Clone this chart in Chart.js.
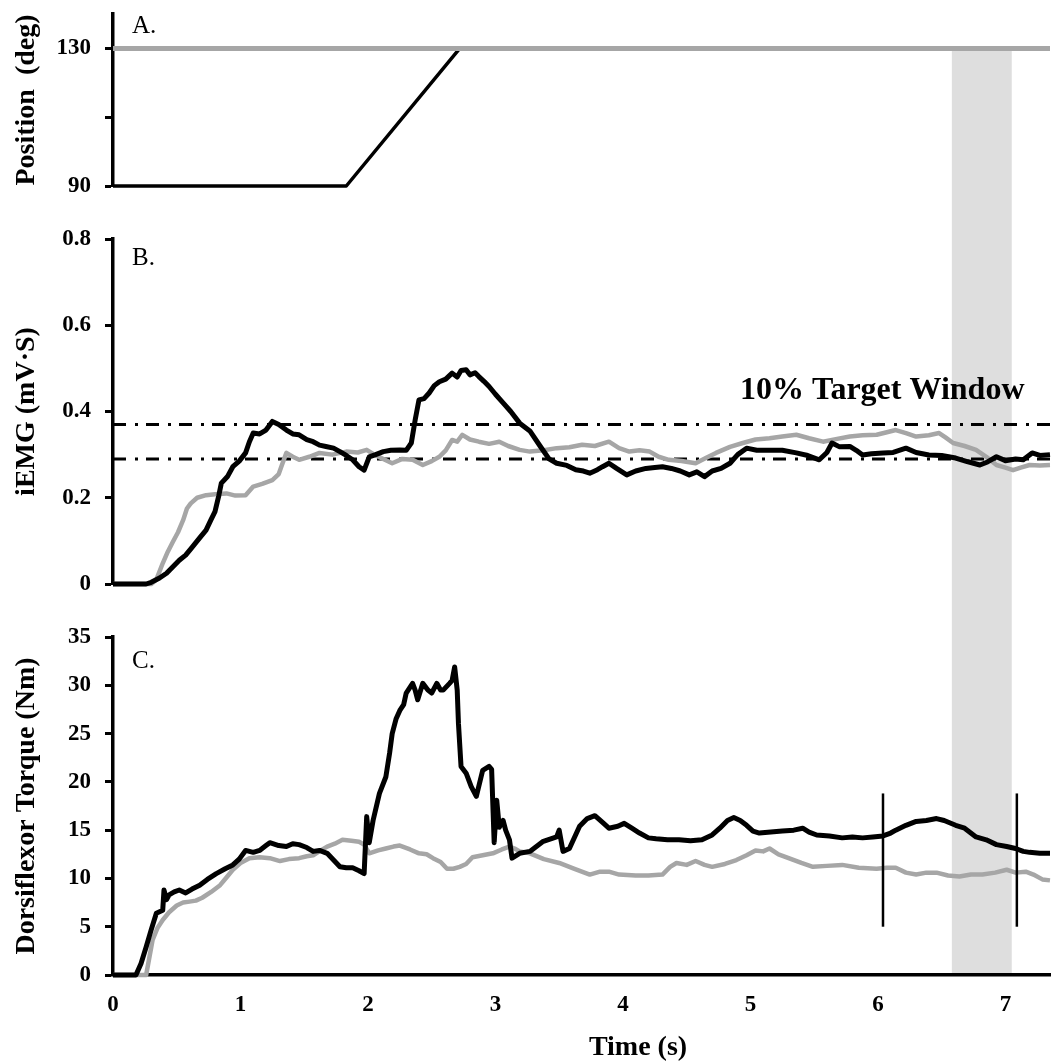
<!DOCTYPE html>
<html>
<head>
<meta charset="utf-8">
<script src="https://cdn.jsdelivr.net/npm/chart.js@4.4.1/dist/chart.umd.min.js"></script>
<style>
  html, body { margin: 0; padding: 0; background: #fff; }
  #wrap { position: relative; width: 1057px; height: 1061px; }
  .panel { position: absolute; left: 0; width: 1057px; }
</style>
</head>
<body>
<div id="wrap">
  <div class="panel" style="top:0;height:200px"><canvas id="posChart" width="1057" height="200"></canvas></div>
  <div class="panel" style="top:200px;height:400px"><canvas id="emgChart" width="1057" height="400"></canvas></div>
  <div class="panel" style="top:600px;height:461px"><canvas id="torqueChart" width="1057" height="461"></canvas></div>
</div>
<script>
// time axis (s)
const timeTicks = [0, 1, 2, 3, 4, 5, 6, 7];
const timeMax = 7.35;
const bandStart = 6.58, bandEnd = 7.05;

// A. position (deg)
const posTicks = [90, 110, 130];
const posLabels = ['90', '', '130'];
const posTarget = [[0, 130], [7.35, 130]];
const posActual = [[0, 90], [1.83, 90], [2.72, 130]];

// B. iEMG (mV·s)
const emgTicks = [0, 0.2, 0.4, 0.6, 0.8];
const emgLabels = ['0', '0.2', '0.4', '0.6', '0.8'];
const windowUpper = 0.37, windowLower = 0.29;
const emgBlack = [[0,0],[0.26,0],[0.30,0.004],[0.365,0.014],[0.42,0.025],[0.47,0.04],[0.52,0.055],[0.57,0.067],[0.62,0.085],[0.68,0.107],[0.73,0.125],[0.77,0.15],[0.80,0.168],[0.83,0.205],[0.85,0.234],[0.90,0.25],[0.94,0.272],[0.99,0.285],[1.04,0.304],[1.07,0.33],[1.10,0.35],[1.15,0.348],[1.20,0.357],[1.25,0.377],[1.30,0.37],[1.36,0.357],[1.41,0.348],[1.46,0.346],[1.52,0.335],[1.57,0.33],[1.62,0.322],[1.67,0.319],[1.73,0.315],[1.78,0.307],[1.83,0.298],[1.88,0.288],[1.93,0.272],[1.97,0.264],[2.01,0.295],[2.06,0.3],[2.12,0.307],[2.18,0.31],[2.25,0.311],[2.30,0.31],[2.34,0.327],[2.37,0.38],[2.40,0.427],[2.44,0.43],[2.48,0.443],[2.52,0.46],[2.56,0.469],[2.61,0.475],[2.66,0.489],[2.70,0.48],[2.73,0.495],[2.77,0.497],[2.80,0.485],[2.84,0.49],[2.87,0.481],[2.91,0.47],[2.95,0.458],[3.00,0.44],[3.06,0.42],[3.12,0.4],[3.19,0.373],[3.27,0.355],[3.35,0.32],[3.42,0.29],[3.48,0.28],[3.56,0.275],[3.63,0.265],[3.69,0.262],[3.74,0.257],[3.80,0.265],[3.84,0.272],[3.89,0.28],[3.95,0.268],[4.03,0.253],[4.10,0.262],[4.18,0.268],[4.25,0.27],[4.31,0.272],[4.38,0.268],[4.45,0.262],[4.52,0.253],[4.58,0.26],[4.64,0.249],[4.70,0.262],[4.77,0.268],[4.84,0.28],[4.90,0.3],[4.97,0.315],[5.05,0.31],[5.15,0.31],[5.25,0.31],[5.36,0.304],[5.45,0.298],[5.54,0.288],[5.60,0.305],[5.64,0.327],[5.70,0.318],[5.78,0.319],[5.83,0.31],[5.88,0.299],[5.95,0.302],[6.04,0.304],[6.12,0.305],[6.22,0.315],[6.30,0.305],[6.40,0.299],[6.50,0.298],[6.61,0.292],[6.70,0.284],[6.80,0.276],[6.86,0.283],[6.93,0.295],[7.00,0.286],[7.08,0.29],[7.14,0.288],[7.21,0.304],[7.27,0.298],[7.35,0.30]];
const emgGray = [[0,0],[0.30,0],[0.34,0.01],[0.39,0.048],[0.43,0.075],[0.47,0.098],[0.51,0.12],[0.55,0.148],[0.58,0.175],[0.61,0.187],[0.66,0.2],[0.73,0.206],[0.80,0.208],[0.89,0.21],[0.96,0.205],[1.04,0.206],[1.10,0.226],[1.17,0.232],[1.25,0.241],[1.30,0.255],[1.33,0.28],[1.36,0.304],[1.41,0.295],[1.46,0.288],[1.54,0.295],[1.62,0.304],[1.72,0.3],[1.83,0.307],[1.92,0.305],[1.99,0.311],[2.05,0.3],[2.12,0.29],[2.19,0.28],[2.27,0.29],[2.35,0.288],[2.43,0.276],[2.50,0.285],[2.56,0.295],[2.61,0.31],[2.66,0.334],[2.70,0.33],[2.74,0.346],[2.80,0.335],[2.87,0.33],[2.95,0.325],[3.03,0.33],[3.10,0.32],[3.19,0.311],[3.27,0.307],[3.38,0.31],[3.48,0.315],[3.58,0.317],[3.68,0.323],[3.78,0.32],[3.89,0.33],[3.97,0.315],[4.05,0.307],[4.13,0.31],[4.21,0.307],[4.28,0.295],[4.36,0.288],[4.46,0.285],[4.57,0.28],[4.65,0.292],[4.73,0.304],[4.84,0.318],[4.94,0.327],[5.04,0.335],[5.15,0.338],[5.25,0.342],[5.36,0.346],[5.46,0.338],[5.57,0.33],[5.67,0.336],[5.78,0.342],[5.88,0.345],[5.99,0.346],[6.07,0.352],[6.14,0.357],[6.22,0.35],[6.30,0.342],[6.40,0.345],[6.48,0.35],[6.53,0.34],[6.59,0.327],[6.68,0.32],[6.77,0.311],[6.85,0.295],[6.93,0.276],[7.00,0.27],[7.06,0.264],[7.12,0.27],[7.19,0.276],[7.27,0.275],[7.35,0.276]];

// C. dorsiflexor torque (Nm)
const torqueTicks = [0, 5, 10, 15, 20, 25, 30, 35];
const torqueLabels = ['0', '5', '10', '15', '20', '25', '30', '35'];
const torqueBlack = [[0,0],[0.18,0],[0.22,1.2],[0.26,2.9],[0.30,4.7],[0.34,6.4],[0.39,6.7],[0.40,8.8],[0.42,7.8],[0.44,8.3],[0.48,8.6],[0.52,8.8],[0.57,8.5],[0.62,8.9],[0.68,9.3],[0.74,9.9],[0.81,10.5],[0.88,11.0],[0.94,11.4],[0.99,12.0],[1.04,12.9],[1.10,12.7],[1.15,12.9],[1.20,13.4],[1.23,13.7],[1.30,13.4],[1.36,13.3],[1.41,13.6],[1.46,13.5],[1.52,13.2],[1.57,12.8],[1.62,12.9],[1.68,12.6],[1.73,11.9],[1.78,11.2],[1.83,11.1],[1.88,11.1],[1.93,10.8],[1.97,10.5],[1.99,16.4],[2.01,13.7],[2.04,16.0],[2.09,18.8],[2.14,20.5],[2.17,23],[2.19,25],[2.22,26.5],[2.25,27.4],[2.28,28],[2.30,29.2],[2.35,30.2],[2.37,29.5],[2.39,28.5],[2.43,30.2],[2.47,29.5],[2.50,29.2],[2.54,30.2],[2.57,29.5],[2.59,29.5],[2.64,30.2],[2.66,30.5],[2.68,31.9],[2.70,29.5],[2.71,26],[2.73,21.6],[2.77,20.9],[2.81,19.5],[2.85,18.5],[2.90,21.2],[2.95,21.6],[2.97,21.3],[2.99,13.7],[3.01,18.1],[3.03,15.3],[3.06,16],[3.08,15],[3.11,14],[3.13,12.1],[3.19,12.6],[3.27,12.8],[3.37,13.8],[3.48,14.3],[3.50,15.0],[3.53,12.8],[3.58,13.1],[3.66,15.4],[3.72,16.2],[3.78,16.5],[3.84,15.8],[3.89,15.2],[3.96,15.4],[4.01,15.7],[4.07,15.2],[4.13,14.7],[4.20,14.2],[4.26,14.1],[4.35,14.0],[4.44,14.0],[4.53,13.9],[4.62,14.0],[4.70,14.5],[4.76,15.2],[4.82,16.0],[4.87,16.3],[4.92,16.0],[4.97,15.5],[5.02,14.9],[5.07,14.7],[5.16,14.8],[5.25,14.9],[5.34,15.0],[5.41,15.2],[5.46,14.8],[5.52,14.5],[5.62,14.4],[5.72,14.2],[5.80,14.3],[5.88,14.2],[5.96,14.3],[6.04,14.4],[6.10,14.7],[6.14,15.0],[6.22,15.5],[6.30,15.9],[6.38,16.0],[6.46,16.2],[6.52,16.0],[6.61,15.5],[6.68,15.2],[6.77,14.3],[6.85,14.0],[6.93,13.5],[7.01,13.3],[7.08,13.1],[7.14,12.8],[7.19,12.7],[7.27,12.6],[7.35,12.6]];
const torqueGray = [[0,0],[0.26,0],[0.31,3.6],[0.35,4.9],[0.39,5.7],[0.44,6.5],[0.50,7.2],[0.55,7.5],[0.60,7.6],[0.65,7.7],[0.70,8.0],[0.77,8.6],[0.84,9.3],[0.89,10.1],[0.94,10.9],[1.00,11.6],[1.07,12.1],[1.15,12.2],[1.23,12.1],[1.31,11.8],[1.38,12.0],[1.46,12.1],[1.52,12.3],[1.57,12.4],[1.63,12.9],[1.68,13.3],[1.74,13.6],[1.80,14.0],[1.87,13.9],[1.93,13.8],[1.97,13.5],[2.01,12.6],[2.08,12.9],[2.14,13.1],[2.20,13.3],[2.25,13.4],[2.33,13.0],[2.40,12.6],[2.46,12.5],[2.51,12.1],[2.57,11.7],[2.62,11.0],[2.67,11.0],[2.72,11.2],[2.77,11.5],[2.82,12.2],[2.90,12.4],[2.98,12.6],[3.05,13.0],[3.11,13.3],[3.15,13.1],[3.19,12.8],[3.27,12.6],[3.38,12.0],[3.50,11.6],[3.62,11.0],[3.74,10.4],[3.82,10.7],[3.89,10.7],[3.97,10.4],[4.10,10.3],[4.20,10.3],[4.31,10.4],[4.37,11.2],[4.42,11.6],[4.50,11.4],[4.57,11.8],[4.64,11.4],[4.70,11.2],[4.80,11.5],[4.89,11.9],[4.97,12.4],[5.04,12.9],[5.10,12.8],[5.15,13.1],[5.22,12.5],[5.30,12.1],[5.40,11.6],[5.49,11.2],[5.60,11.3],[5.72,11.4],[5.85,11.1],[5.99,11.0],[6.07,11.1],[6.14,11.1],[6.22,10.6],[6.30,10.4],[6.38,10.6],[6.46,10.6],[6.55,10.3],[6.64,10.2],[6.73,10.4],[6.82,10.4],[6.92,10.6],[7.01,10.9],[7.08,10.6],[7.16,10.7],[7.22,10.4],[7.29,9.9],[7.35,9.8]];
const markerTimes = [6.04, 7.09];
const markerRange = [5, 18.8];

Chart.defaults.font.family = "'Liberation Serif', 'Times New Roman', serif";
Chart.defaults.color = '#000';

function line(points, color, width, extra) {
  return Object.assign({
    data: points.map(p => ({ x: p[0], y: p[1] })),
    borderColor: color, borderWidth: width, pointRadius: 0, tension: 0,
    fill: false, clip: false, borderJoinStyle: 'round'
  }, extra || {});
}

function yAxis(min, max, ticks, labels, title) {
  return {
    type: 'linear', min: min, max: max,
    afterBuildTicks: s => { s.ticks = ticks.map(v => ({ value: v })); },
    // fixed width so the three panels line up; layout padding decides top/bottom
    afterFit: s => { s.width = 113; s.paddingTop = 0; s.paddingBottom = 0; },
    ticks: { color: '#000', padding: 14, font: { size: 23, weight: 'bold' }, callback: (v, i) => labels[i] },
    grid: { drawOnChartArea: false, tickLength: 8, tickWidth: 3, tickColor: '#000' },
    border: { color: '#000', width: 3.5 },
    title: { display: true, text: title, color: '#000', font: { size: 28, weight: 'bold' }, padding: { top: 10, bottom: 0 } }
  };
}

const hiddenX = { type: 'linear', min: 0, max: timeMax, display: false };

// grey shaded window, drawn the full height of each panel so it joins up
function band(fromValue, toAxis) {
  return {
    id: 'band',
    beforeDatasetsDraw(chart) {
      const { ctx, scales } = chart;
      const x1 = scales.x.getPixelForValue(bandStart), x2 = scales.x.getPixelForValue(bandEnd);
      const top = fromValue == null ? 0 : scales.y.getPixelForValue(fromValue);
      const bottom = toAxis ? chart.chartArea.bottom - 2 : chart.height;
      ctx.save();
      ctx.fillStyle = '#dedede';
      ctx.fillRect(x1, top, x2 - x1, bottom - top);
      ctx.restore();
    }
  };
}

function labels(items) {
  return {
    id: 'labels',
    afterDraw(chart) {
      const ctx = chart.ctx;
      ctx.save();
      ctx.fillStyle = '#000';
      items.forEach(it => {
        ctx.font = it.font;
        ctx.textAlign = it.align || 'left';
        ctx.textBaseline = 'alphabetic';
        ctx.fillText(it.text, it.x, it.y);
      });
      ctx.restore();
    }
  };
}

const serif = "'Liberation Serif', serif";
const baseOpts = { responsive: false, animation: false, events: [] };

new Chart(document.getElementById('posChart'), {
  type: 'line',
  data: { datasets: [
    line(posTarget, '#a6a6a6', 5),
    line(posActual, '#000', 3.5)
  ] },
  options: Object.assign({}, baseOpts, {
    layout: { padding: { top: 14, bottom: 14, left: 0, right: 7 } },
    plugins: { legend: { display: false }, tooltip: { enabled: false } },
    scales: { x: hiddenX, y: yAxis(90, 140, posTicks, posLabels, 'Position  (deg)') }
  }),
  plugins: [band(130, false), labels([{ text: 'A.', x: 132, y: 33, font: '25px ' + serif }])]
});

new Chart(document.getElementById('emgChart'), {
  type: 'line',
  data: { datasets: [
    line(emgBlack, '#000', 5),
    line(emgGray, '#a6a6a6', 4.5),
    line([[0, windowUpper], [timeMax, windowUpper]], '#000', 3, { borderDash: [13, 9, 3, 8] }),
    line([[0, windowLower], [timeMax, windowLower]], '#000', 3, { borderDash: [13, 9, 3, 8] })
  ] },
  options: Object.assign({}, baseOpts, {
    layout: { padding: { top: 39, bottom: 16, left: 0, right: 7 } },
    plugins: { legend: { display: false }, tooltip: { enabled: false } },
    scales: { x: hiddenX, y: yAxis(0, 0.8, emgTicks, emgLabels, 'iEMG (mV·S)') }
  }),
  plugins: [band(null, false), labels([
    { text: 'B.', x: 132, y: 65, font: '25px ' + serif },
    { text: '10% Target Window', x: 740, y: 199, font: 'bold 32px ' + serif }
  ])]
});

new Chart(document.getElementById('torqueChart'), {
  type: 'line',
  data: { datasets: [
    line([[markerTimes[0], markerRange[0]], [markerTimes[0], markerRange[1]]], '#000', 2.5),
    line([[markerTimes[1], markerRange[0]], [markerTimes[1], markerRange[1]]], '#000', 2.5),
    line(torqueBlack, '#000', 5),
    line(torqueGray, '#a6a6a6', 4.5)
  ] },
  options: Object.assign({}, baseOpts, {
    layout: { padding: { top: 37, bottom: 0, left: 0, right: 7 } },
    plugins: { legend: { display: false }, tooltip: { enabled: false } },
    scales: {
      x: {
        type: 'linear', min: 0, max: timeMax,
        afterBuildTicks: s => { s.ticks = timeTicks.map(v => ({ value: v })); },
        afterFit: s => { s.height = 86; },
        ticks: { color: '#000', padding: 16, maxRotation: 0, font: { size: 23, weight: 'bold' }, callback: (v, i) => String(timeTicks[i]) },
        grid: { drawOnChartArea: false, drawTicks: false },
        border: { color: '#000', width: 3.5 }
      },
      y: yAxis(0, 35, torqueTicks, torqueLabels, 'Dorsiflexor Torque (Nm)')
    }
  }),
  plugins: [band(null, true), labels([
    { text: 'C.', x: 132, y: 68, font: '25px ' + serif },
    { text: 'Time (s)', x: 638, y: 455, font: 'bold 28px ' + serif, align: 'center' }
  ])]
});
</script>
</body>
</html>
